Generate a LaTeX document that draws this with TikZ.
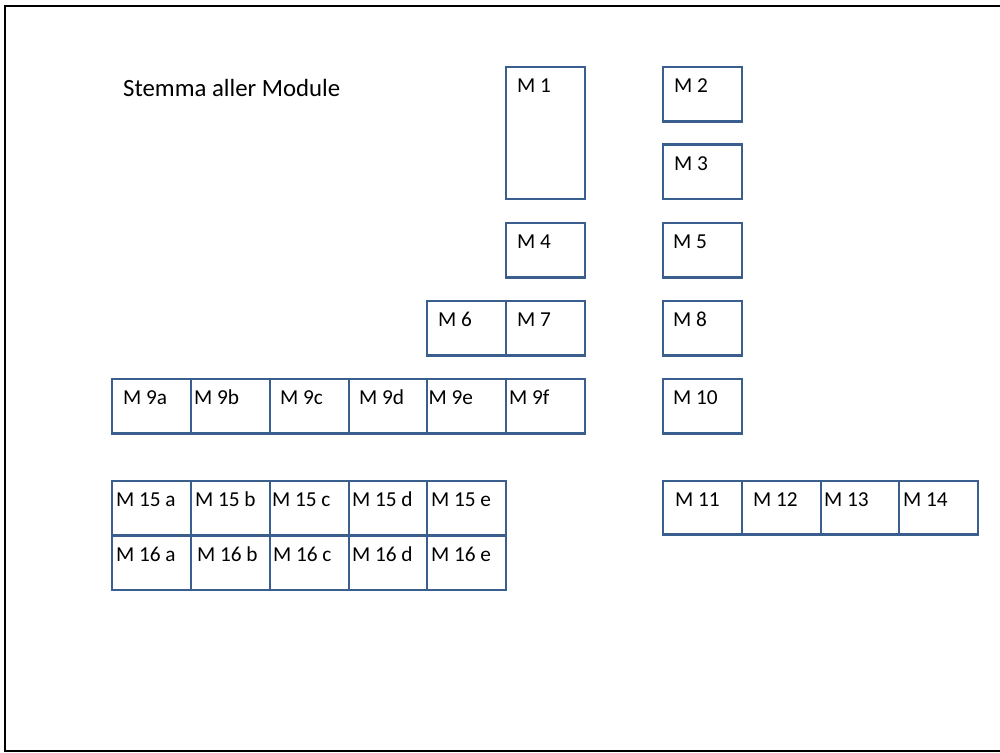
\documentclass[tikz,border=0pt]{standalone}
\usepackage{fontspec}
\setmainfont{Carlito}
\definecolor{boxline}{HTML}{3A5F8F}
\tikzset{
  modbox/.style={draw=boxline, line width=2.4pt, fill=white, anchor=north west,
    inner sep=0pt, outer sep=0pt},
  modlabel/.style={anchor=base west, inner sep=0pt, outer sep=0pt,
    font=\fontsize{21.3}{25}\selectfont, text=black},
  frame/.style={draw=black, line width=2pt},
}
% \modbox{name}{left}{top}{width}{height}{text offset}{text}
\newcommand\modbox[7]{%
  \node[modbox, minimum width=#4pt, minimum height=#5pt] (#1) at (#2,#3) {};
  \node[modlabel] (#1-t) at ([xshift=#6pt, yshift=-25.5pt]#1.north west) {#7};}
\begin{document}
\begin{tikzpicture}[x=1pt, y=-1pt]
\useasboundingbox (0,0) rectangle (1000,752);
% page frame, open on the right
\draw[frame] (1001,5.7) -- (5,5.7) -- (5,750.5) -- (1001,750.5);

\node[anchor=base west, inner sep=0pt, font=\fontsize{24.8}{29}\selectfont] (title) at (123,96) {Stemma aller Module};

% left column
\modbox{m1}{506}{67}{79}{132}{11}{M 1}
\modbox{m4}{506}{223}{79}{54.5}{11}{M 4}
\modbox{m6}{427}{301}{79}{54.5}{11}{M 6}
\modbox{m7}{506}{301}{79}{54.5}{11}{M 7}

% right column
\modbox{m2}{663}{67}{79}{54.5}{11}{M 2}
\modbox{m3}{663}{144.5}{79}{54.5}{11}{M 3}
\modbox{m5}{663}{223}{79}{54.5}{10}{M 5}
\modbox{m8}{663}{301}{79}{54.5}{10}{M 8}
\modbox{m10}{663}{379}{79}{54.5}{10}{M 10}

% row M 9
\modbox{m9a}{112}{379}{79}{54.5}{11}{M 9a}
\modbox{m9b}{191}{379}{79}{54.5}{3}{M 9b}
\modbox{m9c}{270}{379}{79}{54.5}{10}{M 9c}
\modbox{m9d}{349}{379}{79}{54.5}{10}{M 9d}
\modbox{m9e}{427}{379}{79}{54.5}{1.5}{M 9e}
\modbox{m9f}{506}{379}{79}{54.5}{3}{M 9f}

% rows M 15 and M 16
\modbox{m15a}{112}{481}{79}{54.5}{4}{M 15 a}
\modbox{m15b}{191}{481}{79}{54.5}{4}{M 15 b}
\modbox{m15c}{270}{481}{79}{54.5}{2}{M 15 c}
\modbox{m15d}{349}{481}{79}{54.5}{3}{M 15 d}
\modbox{m15e}{427}{481}{79}{54.5}{4}{M 15 e}
\modbox{m16a}{112}{535.5}{79}{54.5}{4}{M 16 a}
\modbox{m16b}{191}{535.5}{79}{54.5}{6}{M 16 b}
\modbox{m16c}{270}{535.5}{79}{54.5}{3}{M 16 c}
\modbox{m16d}{349}{535.5}{79}{54.5}{3}{M 16 d}
\modbox{m16e}{427}{535.5}{79}{54.5}{4}{M 16 e}

% row M 11 -- M 14
\modbox{m11}{663}{481}{79}{53.5}{12}{M 11}
\modbox{m12}{742}{481}{79}{53.5}{11}{M 12}
\modbox{m13}{821}{481}{78}{53.5}{3}{M 13}
\modbox{m14}{899}{481}{79}{53.5}{4}{M 14}
\end{tikzpicture}
\end{document}
